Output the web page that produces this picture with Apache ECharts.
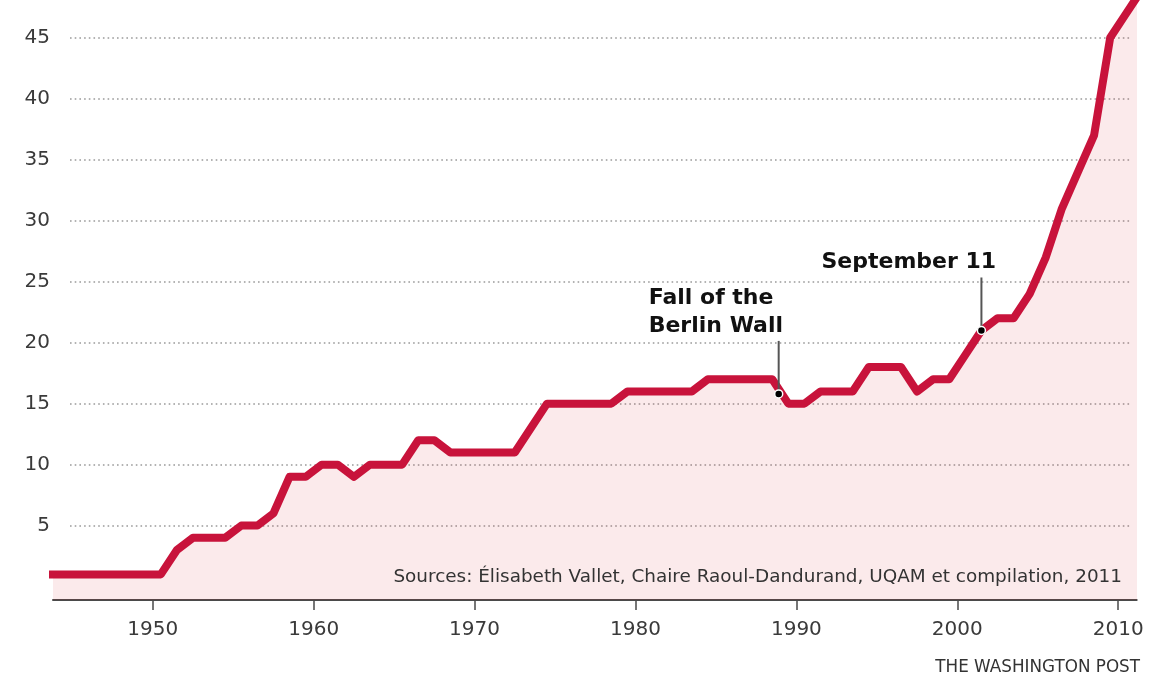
<!DOCTYPE html>
<html>
<head>
<meta charset="utf-8">
<script src="https://cdn.jsdelivr.net/npm/echarts@6/dist/echarts.min.js"></script>
<style>
html,body{margin:0;padding:0;background:#ffffff;}
#chart{width:1160px;height:677px;}
</style>
</head>
<body>
<div id="chart"></div>
<script>
// ---- data ----
const years = [1943,1944,1945,1946,1947,1948,1949,1950,1951,1952,1953,1954,1955,1956,1957,1958,1959,
  1960,1961,1962,1963,1964,1965,1966,1967,1968,1969,1970,1971,1972,1973,1974,1975,1976,1977,1978,1979,
  1980,1981,1982,1983,1984,1985,1986,1987,1988,1989,1990,1991,1992,1993,1994,1995,1996,1997,1998,1999,
  2000,2001,2002,2003,2004,2005,2006,2007,2008,2009,2010,2011];
const walls = [1,1,1,1,1,1,1,1,3,4,4,4,5,5,6,9,9,
  10,10,9,10,10,10,12,12,11,11,11,11,11,13,15,15,15,15,15,16,
  16,16,16,16,17,17,17,17,17,15,15,16,16,16,18,18,18,16,17,17,
  19,21,22,22,24,27,31,34,37,45,47,49];
const xTickYears = [1950,1960,1970,1980,1990,2000,2010];
const yTickStep = 5;
const yTickMax = 45;
const sourceNote = 'Sources: \u00c9lisabeth Vallet, Chaire Raoul-Dandurand, UQAM et compilation, 2011';
const credit = 'THE WASHINGTON POST';
const annotationLabels = ['Fall of the\nBerlin Wall', 'September 11'];
const annotationYears = [1988.9, 2001.5];
const annotationValues = [15.8, 21];

// each annual value is plotted at mid-year
const MID_YEAR = 0.5;
const X_MIN = 1943.8, X_MAX = 2011.15;
const Y_MIN = -1.1, Y_MAX = 48.1;

// plot grid (data) geometry
const PLOT = {left: 53, right: 23.3, top: 0, bottom: 77};
const plotH = 677 - PLOT.top - PLOT.bottom;
const yPx = v => PLOT.top + (Y_MAX - v) / (Y_MAX - Y_MIN) * plotH;

const chart = echarts.init(document.getElementById('chart'), null, {renderer: 'canvas'});
const FONT = 'DejaVu Sans';
const points = years.map((y, i) => [y + MID_YEAR, walls[i]]);

const option = {
  backgroundColor: '#ffffff',
  animation: false,
  grid: [
    // grid for the y labels + dotted gridlines
    {left: 70, right: 28, top: yPx(yTickMax), bottom: 677 - yPx(0), containLabel: false},
    // grid for the data
    {left: PLOT.left, right: PLOT.right, top: PLOT.top, bottom: PLOT.bottom, containLabel: false}
  ],
  xAxis: [
    {gridIndex: 0, type: 'value', min: 0, max: 1, show: false},
    {
      gridIndex: 1, type: 'value', min: X_MIN, max: X_MAX,
      axisLine: {show: true, onZero: false, lineStyle: {color: '#4a4a4a', width: 2}},
      axisTick: {show: true, customValues: xTickYears, length: 10, lineStyle: {color: '#4a4a4a', width: 1.5}},
      axisLabel: {show: true, customValues: xTickYears, fontFamily: FONT, fontSize: 20, color: '#3a3a3a', margin: 20,
        formatter: v => String(Math.round(v))},
      splitLine: {show: false}
    }
  ],
  yAxis: [
    {
      gridIndex: 0, type: 'value', min: 0, max: yTickMax, interval: yTickStep,
      axisLine: {show: false}, axisTick: {show: false},
      axisLabel: {show: true, showMinLabel: false, fontFamily: FONT, fontSize: 20, color: '#3a3a3a', margin: 20},
      splitLine: {show: true, showMinLine: false, lineStyle: {color: '#9a9a9a', width: 1.6, type: [1.6, 3.1]}}
    },
    {gridIndex: 1, type: 'value', min: Y_MIN, max: Y_MAX, show: false, splitLine: {show: false}}
  ],
  series: [
    {
      // area fill
      type: 'line', xAxisIndex: 1, yAxisIndex: 1,
      data: points, symbol: 'none', clip: true, z: 2,
      lineStyle: {width: 0, opacity: 0},
      areaStyle: {color: 'rgba(214,40,48,0.14)', origin: 'start'}
    },
    {
      // line
      type: 'line', xAxisIndex: 1, yAxisIndex: 1,
      data: points, symbol: 'none', clip: true, z: 3,
      lineStyle: {color: '#c8133b', width: 8, join: 'round', cap: 'round'}
    }
  ]
};
chart.setOption(option);

// annotations, placed from the data coordinates
const graphics = [];
annotationLabels.forEach((label, i) => {
  const p = chart.convertToPixel({gridIndex: 1}, [annotationYears[i], annotationValues[i]]);
  const lead = 53;
  graphics.push({
    type: 'line', z: 10,
    shape: {x1: p[0], y1: p[1] - lead, x2: p[0], y2: p[1]},
    style: {stroke: '#555555', lineWidth: 2}
  });
  graphics.push({
    type: 'circle', z: 11,
    shape: {cx: p[0], cy: p[1], r: 4},
    style: {fill: '#000000', stroke: '#ffffff', lineWidth: 1.5}
  });
  graphics.push({
    type: 'text', z: 11,
    x: p[0] - (i === 0 ? 130 : 160), y: p[1] - lead - 1,
    style: {text: label, font: 'bold 22px "DejaVu Sans"', fill: '#111111',
      align: 'left', verticalAlign: 'bottom', lineHeight: 28}
  });
});
graphics.push({
  type: 'text', z: 10, x: 1122, y: 577,
  style: {text: sourceNote, font: '18.4px "DejaVu Sans"', fill: '#333333', align: 'right', verticalAlign: 'middle'}
});
graphics.push({
  type: 'text', z: 10, x: 1140, y: 668,
  style: {text: credit, font: '16.8px "DejaVu Sans"', fill: '#333333', align: 'right', verticalAlign: 'middle'}
});
chart.setOption({graphic: graphics});
</script>
</body>
</html>
